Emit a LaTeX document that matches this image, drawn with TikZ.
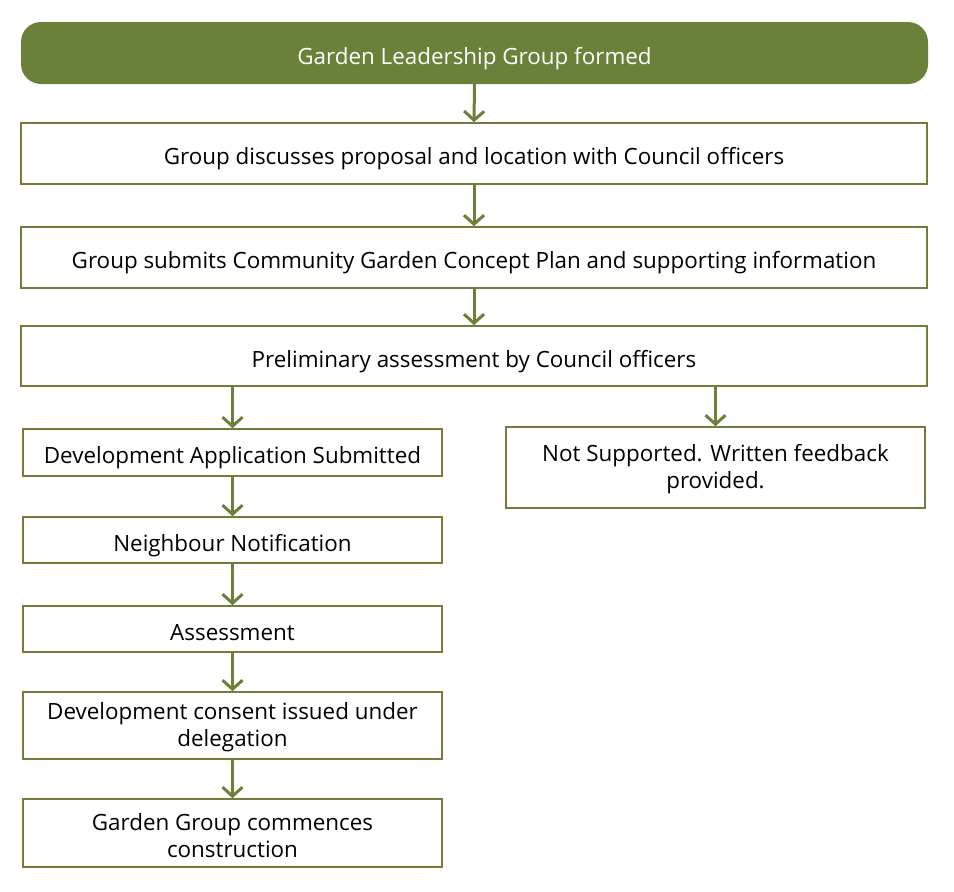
\documentclass[tikz,border=0pt]{standalone}
\usepackage{fontspec}
\setmainfont{Open Sans}
\usetikzlibrary{arrows.meta}
\definecolor{gardengreen}{HTML}{6B8139}
\tikzset{
  txt/.style={font=\fontsize{22.4}{27}\selectfont},
  one/.style={text height=28pt, text depth=5.4pt},
  box/.style={draw=gardengreen, line width=1.6pt, rectangle, inner sep=0pt, align=center, txt},
  arr/.style={draw=gardengreen, line width=3pt, -{Straight Barb[length=9pt,width=20pt,line width=3pt]}},
}
\newcommand{\firstline}{\rule{0pt}{0.95em}}
\begin{document}
\begin{tikzpicture}[x=1pt,y=-1pt]
\useasboundingbox (0,0) rectangle (954,892);
% top rounded
\node[fill=gardengreen, rounded corners=20pt, minimum width=907pt, minimum height=62pt, inner sep=0pt, text=white, txt, one] (t) at (474.5,53) {Garden Leadership Group formed};
\node[box, one, minimum width=906pt, minimum height=61pt] (b2) at (474,153.5) {Group discusses proposal and location with Council officers};
\node[box, one, minimum width=906pt, minimum height=61pt] (b3) at (474,257.5) {Group submits Community Garden Concept Plan and supporting information};
\node[box, one, minimum width=906pt, minimum height=60pt] (b4) at (474,356) {Preliminary assessment by Council officers};
\node[box, one, minimum width=419pt, minimum height=47pt] (l1) at (232.5,452.5) {Development Application Submitted};
\node[box, one, minimum width=419pt, minimum height=46pt] (l2) at (232.5,540) {Neighbour Notification};
\node[box, one, minimum width=419pt, minimum height=46pt] (l3) at (232.5,629) {Assessment};
\node[box, minimum width=419pt, minimum height=67pt] (l4) at (232.5,725.5) {\firstline Development consent issued under\\delegation};
\node[box, minimum width=419pt, minimum height=68pt] (l5) at (232.5,833) {\firstline Garden Group commences\\construction};
\node[box, minimum width=419pt, minimum height=81pt] (r1) at (715.5,467.5) {\firstline Not Supported. Written feedback\\provided.};
% arrows
\draw[arr] (t.south) -- (b2.north);
\draw[arr] (b2.south) -- (b3.north);
\draw[arr] (b3.south) -- (b4.north);
\draw[arr] (l1.north |- b4.south) -- (l1.north);
\draw[arr] (r1.north |- b4.south) -- (r1.north);
\draw[arr] (l1.south) -- (l2.north);
\draw[arr] (l2.south) -- (l3.north);
\draw[arr] (l3.south) -- (l4.north);
\draw[arr] (l4.south) -- (l5.north);
\end{tikzpicture}
\end{document}
